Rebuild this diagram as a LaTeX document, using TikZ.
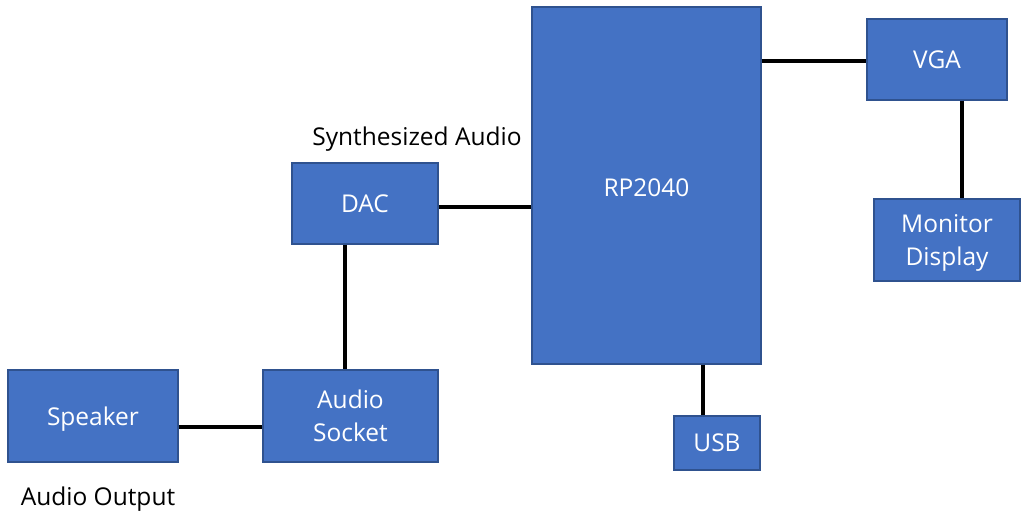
\documentclass[tikz,border=0pt]{standalone}
\usepackage{fontspec}
\setmainfont{Open Sans}
\begin{document}
\begin{tikzpicture}[x=1pt,y=-1pt,
  blk/.style={draw=blkborder,line width=1.5pt,fill=blkfill,text=white,font=\fontsize{24.5}{33}\selectfont,align=center,inner sep=0pt,text depth=0pt},
  wire/.style={line width=4.5pt,black},
  lbl/.style={font=\fontsize{24.5}{33}\selectfont,text=black,inner sep=0pt}]
\definecolor{blkfill}{HTML}{4472C4}
\definecolor{blkborder}{HTML}{2F528F}
\useasboundingbox (0,0) rectangle (1028,518);
\node[blk,minimum width=229pt,minimum height=357pt] (rp) at (646.5,185.5) {};
\node[text=white,font=\fontsize{24.5}{33}\selectfont,inner sep=0pt] (rpt) at (646.5,188) {RP2040};
\node[blk,minimum width=140pt,minimum height=81pt] (vga) at (937,59.5) {VGA};
\node[blk,minimum width=146pt,minimum height=82pt] (mon) at (947,240) {Monitor\\Display};
\node[blk,minimum width=146pt,minimum height=81pt] (dac) at (365,203.5) {DAC};
\node[blk,minimum width=175pt,minimum height=92pt] (sock) at (350.5,416) {Audio\\Socket};
\node[blk,minimum width=170pt,minimum height=92pt] (spk) at (93,416) {Speaker};
\node[blk,minimum width=86pt,minimum height=54pt] (usb) at (717,443) {USB};
\node[lbl] (synth) at (417,139) {Synthesized Audio};
\node[lbl] (aout) at (98,499) {Audio Output};
\draw[wire] (rp.east |- 0,61) coordinate (ve) -- (ve -| vga.west);
\draw[wire] (vga.south -| mon.north) ++(15,0) coordinate (vb) -- (vb |- mon.north);
\draw[wire] (dac.east |- 0,207) coordinate (de) -- (de -| rp.west);
\draw[wire] ([xshift=-20pt]dac.south) coordinate (ds) -- (ds |- sock.north);
\draw[wire] (spk.east |- 0,427) coordinate (se) -- (se -| sock.west);
\draw[wire] (rp.south -| 0,0) ++(703,0) coordinate (ub) -- (ub |- usb.north);
\end{tikzpicture}
\end{document}
